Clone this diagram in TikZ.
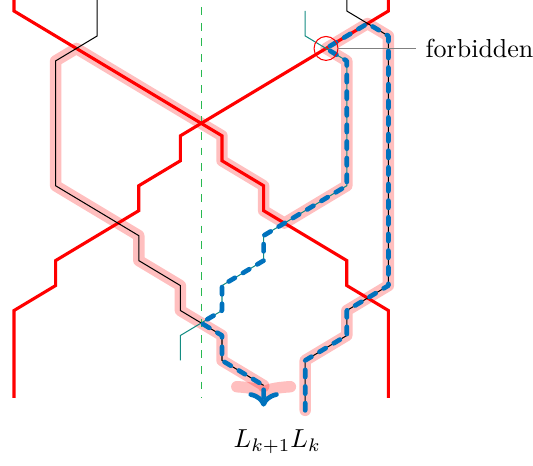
\documentclass[tikz,border=0pt]{standalone}
\usepackage{amsmath,amssymb}
\usepackage{xcolor}
\usepackage{tikz}
\usetikzlibrary{positioning,arrows.meta}
\definecolor{walkblue}{RGB}{0,114,189}
\definecolor{strandteal}{RGB}{20,140,130}
\definecolor{axisgreen}{RGB}{40,185,80}

\begin{document}
\begin{tikzpicture}[x=16pt, y=-9.6pt,
    wall/.style={red, line width=1.2pt},
    hilite/.style={red, opacity=0.25, line width=4.4pt, line cap=round, line join=round},
    walk/.style={walkblue, line width=1.8pt, dash pattern=on 2.8pt off 3.6pt, line cap=round, line join=round}]
    \useasboundingbox (-0.3365,-0.44) rectangle (12.476,18.2);
    % highlighted path
    \draw[hilite, -{Computer Modern Rightarrow[length=6.5pt, width=25pt]}] (7,16) -- (7,14) -- (8,13) -- (8,12) -- (9,11) -- (9,1) -- (8.5,0.5) -- (7.5,1.5) -- (8,2) -- (8,7) -- (6.5,8.5) -- (6,8) -- (6,7) -- (5,6) -- (5,5) -- (1.5,1.5) -- (1,2) -- (1,7) -- (3,9) -- (3,10) -- (4,11) -- (4,12) -- (5,13) -- (5,14) -- (6,15) -- (6,15.5);
    \draw[axisgreen, thin, dashed] (4.5,-0.15) -- (4.5,15.5);
    % the two walls
    \draw[wall] (0,-0.5) -- (0,0) -- (5,5) -- (5,6) -- (6,7) -- (6,8) -- (8,10) -- (8,11) -- (9,12) -- (9,15.5);
    \draw[wall] (0,15.5) -- (0,12) -- (1,11) -- (1,10) -- (3,8) -- (3,7) -- (4,6) -- (4,5) -- (9,0) -- (9,-0.5);
    % strands
    \draw[thin] (2,-0.5) -- (2,1) -- (1,2) -- (1,7) -- (3,9) -- (3,10) -- (4,11) -- (4,12) -- (5,13) -- (5,14) -- (6,15);
    \draw[thin] (8,-0.5) -- (8,0) -- (9,1) -- (9,11) -- (8,12) -- (8,13) -- (7,14) -- (7,16);
    \draw[strandteal, thin] (7,0) -- (7,1) -- (8,2) -- (8,7) -- (6,9) -- (6,10) -- (5,11) -- (5,12) -- (4,13) -- (4,14);
    % resulting walk
    \draw[walk, ->] (7,16) -- (7,14) -- (8,13) -- (8,12) -- (9,11) -- (9,1) -- (8.5,0.5) -- (7.5,1.5) -- (8,2) -- (8,7) -- (6,9) -- (6,10) -- (5,11) -- (5,12) -- (4.5,12.5) -- (5,13) -- (5,14) -- (6,15) -- (6,15.85);
    \node[circle, draw=red, thin, minimum size=9.2pt, inner sep=0pt] (bad) at (7.5,1.5) {};
    \node (forbtxt) [right=30pt of bad] {forbidden};
    \draw[gray] (bad) -- (forbtxt);
    \node (lbl) at (6.33,17.25) {$L_{k+1}L_k$};
\end{tikzpicture}
\end{document}
